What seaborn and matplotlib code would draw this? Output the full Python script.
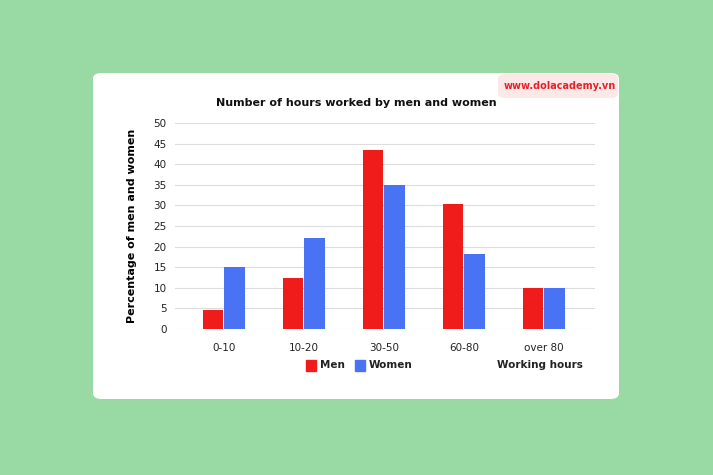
import pandas as pd
import matplotlib.pyplot as plt
import seaborn as sns
from matplotlib.patches import FancyBboxPatch

categories = ["0-10", "10-20", "30-50", "60-80", "over 80"]
men = [4.7, 12.5, 43.5, 30.3, 10]
women = [15, 22, 35, 18.3, 10]

df = pd.DataFrame({
    "Hours": categories * 2,
    "Value": men + women,
    "Sex": ["Men"] * 5 + ["Women"] * 5,
})

fig = plt.figure(figsize=(7.13, 4.75), dpi=100)
fig.patch.set_facecolor("#99daa4")

# white card, kept behind the axes
card = FancyBboxPatch((93 / 713, 1 - 399 / 475), 526 / 713, 326 / 475,
                      boxstyle="round,pad=0,rounding_size=0.012",
                      transform=fig.transFigure, facecolor="white", edgecolor="none",
                      zorder=-10)
fig.patches.append(card)

ax = fig.add_axes([175 / 713, 1 - 329 / 475, 420 / 713, 206 / 475])
ax.set_facecolor("white")
sns.barplot(data=df, x="Hours", y="Value", hue="Sex", ax=ax,
            palette={"Men": "#f01b1b", "Women": "#4a72f5"}, saturation=1,
            width=0.54, gap=0.05, legend=False, zorder=3)

ax.set_xlim(-0.61, 4.64)
ax.set_ylim(0, 50)
ax.set_yticks(range(0, 51, 5))
ax.grid(axis="y", color="#dddddd", linewidth=0.8, zorder=0)
for s in ax.spines.values():
    s.set_visible(False)
ax.tick_params(length=0, labelsize=7.5, colors="#222222", pad=6)
ax.tick_params(axis="x", pad=10)
ax.set_xlabel("")
ax.set_ylabel("Percentage of men and women", fontsize=8, fontweight="bold", labelpad=12)

fig.text(356 / 713, 1 - 103 / 475, "Number of hours worked by men and women",
         ha="center", va="center", fontsize=8, fontweight="bold", color="#111111")

# legend
for x0, lab, col in [(306, "Men", "#f01b1b"), (355, "Women", "#4a72f5")]:
    fig.patches.append(plt.Rectangle((x0 / 713, 1 - 371 / 475), 10 / 713, 11 / 475,
                                     transform=fig.transFigure, color=col))
    fig.text((x0 + 14) / 713, 1 - 365 / 475, lab, va="center", fontsize=7.5,
             fontweight="bold", color="#222222")
fig.text(540 / 713, 1 - 365 / 475, "Working hours", ha="center", va="center",
         fontsize=7.5, fontweight="bold", color="#222222")

# watermark
wm = FancyBboxPatch((498 / 713, 1 - 98 / 475), 120 / 713, 24 / 475,
                    boxstyle="round,pad=0,rounding_size=0.01",
                    transform=fig.transFigure, facecolor="#fde8e8", edgecolor="none",
                    zorder=-5)
fig.patches.append(wm)
fig.text(560 / 713, 1 - 86 / 475, "www.dolacademy.vn", ha="center", va="center",
         fontsize=7, fontweight="bold", color="#e8202a")

fig.savefig("out.png", dpi=100, facecolor=fig.get_facecolor())
